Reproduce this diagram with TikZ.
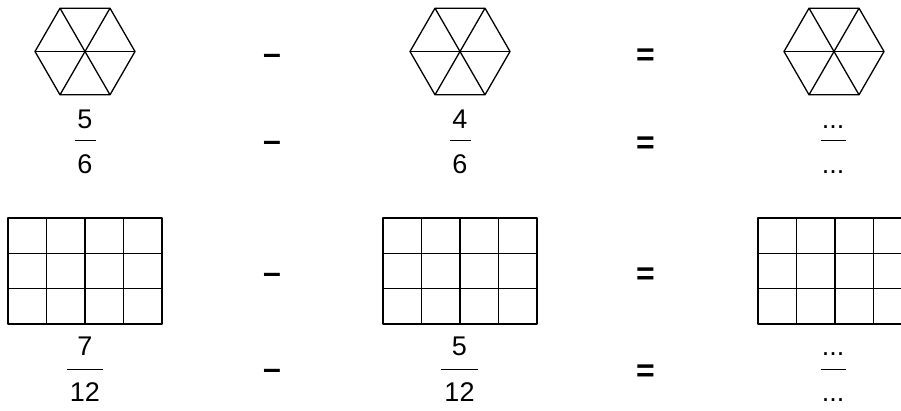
\documentclass[tikz,border=0pt]{standalone}
\usepackage{fontspec}
\setmainfont{Liberation Sans}
\begin{document}
\begin{tikzpicture}[x=1pt,y=-1pt,
  shape line/.style={line width=1.3pt, line join=round},
  digit/.style={font=\fontsize{27}{30}\selectfont, inner sep=0pt, anchor=base},
  opsym/.style={font=\fontsize{32}{34}\selectfont\bfseries, inner sep=0pt, anchor=center, yshift=-5pt},
  fracbar/.style={line width=0.9pt}]
\useasboundingbox (0,0) rectangle (901,410);
\clip (0,0) rectangle (901,410);
% hexagons
\foreach \cx/\nm in {85/h1,460/h2,834/h3}{
  \coordinate (\nm) at (\cx,51.5);
  \draw[shape line] (\cx+50,51.5) -- (\cx+25,8.2) -- (\cx-25,8.2) -- (\cx-50,51.5) -- (\cx-25,94.8) -- (\cx+25,94.8) -- cycle;
  \draw[shape line] (\cx-50,51.5) -- (\cx+50,51.5);
  \draw[shape line] (\cx-25,8.2) -- (\cx+25,94.8);
  \draw[shape line] (\cx+25,8.2) -- (\cx-25,94.8);
}
% grids
\foreach \gx/\nm in {8/g1,383/g2,758/g3}{
  \coordinate (\nm) at (\gx,218);
  \foreach \i in {1,2,3} \draw[shape line] (\gx+38.5*\i,218) -- (\gx+38.5*\i,324);
  \foreach \j in {1,2} \draw[shape line] (\gx,218+35.33*\j) -- (\gx+154,218+35.33*\j);
  \draw[shape line] (\gx,218) rectangle (\gx+154,324);
}
% fractions row 1
\node[digit] (n1) at (85,128) {5};
\node[digit] (d1) at (85,173) {6};
\draw[fracbar] (74.5,140) -- (95.5,140);
\node[digit] (n2) at (460,128) {4};
\node[digit] (d2) at (460,173) {6};
\draw[fracbar] (449.5,140) -- (470.5,140);
\node[digit] (n3) at (833,128) {...};
\node[digit] (d3) at (833,173) {...};
\draw[fracbar] (820.5,140) -- (845.5,140);
% fractions row 2
\node[digit] (n4) at (85,355) {7};
\node[digit] (d4) at (85,401) {12};
\draw[fracbar] (67,369) -- (103,369);
\node[digit] (n5) at (459.5,355) {5};
\node[digit] (d5) at (459.5,401) {12};
\draw[fracbar] (441,369) -- (478,369);
\node[digit] (n6) at (833,355) {...};
\node[digit] (d6) at (833,401) {...};
\draw[fracbar] (820.5,369) -- (846,369);
% operators
\node[opsym] (m1) at (272,54) {–};
\node[opsym] (m2) at (272,141) {–};
\node[opsym] (m3) at (272,273) {–};
\node[opsym] (m4) at (272,369) {–};
\node[opsym] (e1) at (645.5,52.5) {=};
\node[opsym] (e2) at (645.5,140.5) {=};
\node[opsym] (e3) at (645.5,271.5) {=};
\node[opsym] (e4) at (645.5,368) {=};
\end{tikzpicture}
\end{document}
